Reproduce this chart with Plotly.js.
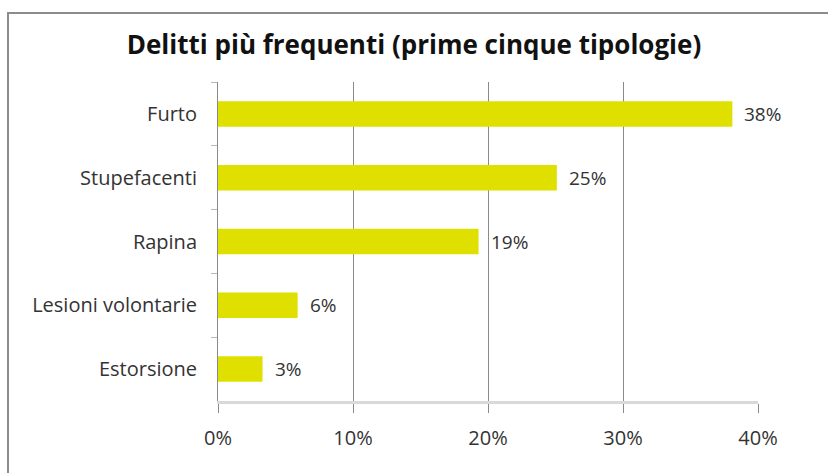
<!DOCTYPE html>
<html>
<head>
<meta charset="utf-8">
<script src="https://cdn.plot.ly/plotly-3.0.1.min.js"></script>
<style>
  body { margin: 0; background: #fff; }
  #chart { width: 828px; height: 473px; position: relative; }
  #frame {
    position: absolute; left: 7px; top: 12px; width: 840px; height: 480px;
    border-left: 2px solid #8c8c8c; border-top: 2px solid #8c8c8c;
    pointer-events: none;
  }
</style>
</head>
<body>
<div id="chart"></div>
<div id="frame"></div>
<script>
// Delitti più frequenti (prime cinque tipologie)
const categorie = ['Furto', 'Stupefacenti', 'Rapina', 'Lesioni volontarie', 'Estorsione'];
const percentuali = [38.1, 25.1, 19.3, 5.9, 3.3];
const etichette = ['38%', '25%', '19%', '6%', '3%'];
const tickValori = [0, 10, 20, 30, 40];

const font = '"Open Sans", sans-serif';

const data = [{
    type: 'bar',
    orientation: 'h',
    y: categorie,
    x: percentuali,
    width: 0.4,
    marker: { color: '#e0e000' },
    hoverinfo: 'skip'
}];

// etichette dei valori a destra delle barre
const annotazioni = categorie.map((c, i) => ({
    x: percentuali[i],
    y: c,
    xref: 'x',
    yref: 'y',
    text: etichette[i],
    showarrow: false,
    xanchor: 'left',
    xshift: 10,
    font: { family: font, size: 19, color: '#333' }
}));

const layout = {
    width: 828,
    height: 473,
    paper_bgcolor: '#fff',
    plot_bgcolor: '#fff',
    margin: { t: 82, r: 70, b: 72, l: 218 },
    font: { family: font, size: 19, color: '#333' },
    showlegend: false,
    title: {
        text: '<b>Delitti più frequenti (prime cinque tipologie)</b>',
        x: 0.5,
        xref: 'container',
        y: 0.905,
        yref: 'container',
        yanchor: 'middle',
        font: { family: font, size: 26, color: '#111' }
    },
    xaxis: {
        range: [0, 40],
        tickvals: tickValori,
        ticktext: tickValori.map(v => v + '%'),
        showgrid: true,
        gridcolor: '#8a8a8a',
        gridwidth: 1,
        zeroline: false,
        showline: true,
        linecolor: '#d9d9d9',
        linewidth: 3,
        ticks: 'outside',
        ticklen: 9,
        tickcolor: '#8a8a8a',
        ticklabelstandoff: 8,
        tickfont: { family: font, size: 20, color: '#333' },
        fixedrange: true
    },
    yaxis: {
        autorange: 'reversed',
        showline: true,
        linecolor: '#8a8a8a',
        linewidth: 1,
        ticks: 'outside',
        tickson: 'boundaries',
        ticklen: 6,
        tickcolor: '#bbbbbb',
        ticklabelstandoff: 16,
        showgrid: false,
        tickfont: { family: font, size: 20, color: '#333' },
        fixedrange: true
    },
    annotations: annotazioni
};

Plotly.newPlot('chart', data, layout, { displayModeBar: false, staticPlot: true });
</script>
</body>
</html>
